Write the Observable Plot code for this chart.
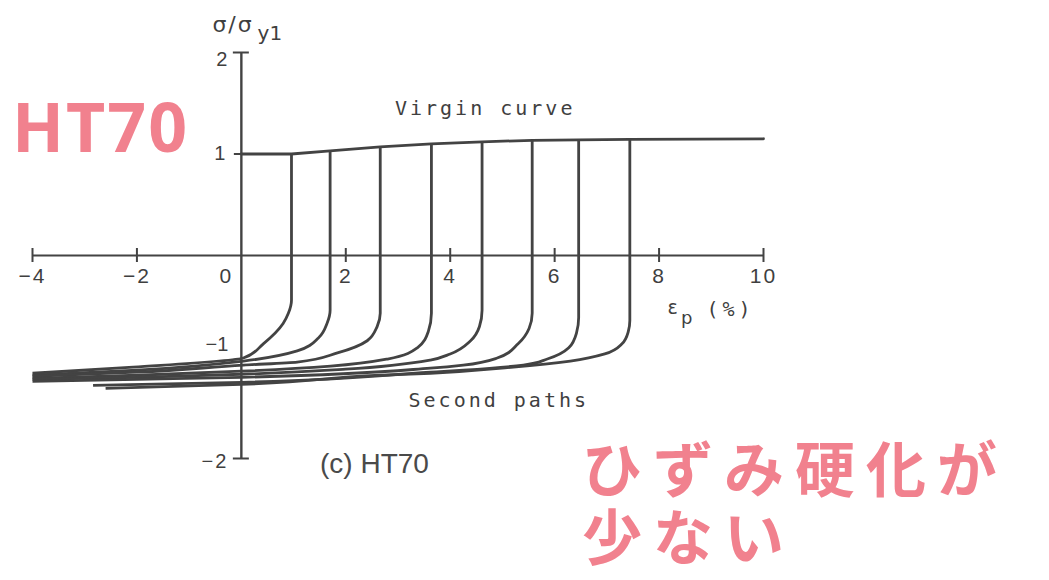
<!DOCTYPE html>
<html>
<head>
<meta charset="utf-8">
<script src="https://cdn.jsdelivr.net/npm/d3@7"></script>
<script src="https://cdn.jsdelivr.net/npm/@observablehq/plot@0.6"></script>
<style>
  html, body { margin: 0; padding: 0; background: #fff; }
  #chart { position: relative; width: 1049px; height: 580px; overflow: hidden; }
  #chart svg { position: absolute; left: 0; top: 0; }
  .note {
    position: absolute; white-space: pre; 
    color: #f07482; font-weight: 700; filter: blur(0.5px); opacity: 0.9;
  }
</style>
</head>
<body>
<div id="chart"></div>
<script>
// Axis ticks
const xTicks = [-4, -2, 0, 2, 4, 6, 8, 10];
const xTickLabels = ["\u22124", "\u22122", "0", "2", "4", "6", "8", "10"];
const yTicks = [2, 1, -1, -2];
const yTickLabels = ["2", "1", "\u22121", "\u22122"];

// Virgin (monotonic) curve: plastic strain (%) and normalized stress
const virginStrain = [0, 0.96, 1.70, 2.66, 3.64, 4.61, 5.57, 6.46, 7.44, 10];
const virginStress = [1.00, 1.00, 1.03, 1.07, 1.10, 1.12, 1.135, 1.14, 1.145, 1.15];

// Second (reversed) loading paths, one per prestrain, listed from tail to the reversal point
const prestrain = [0.96, 1.70, 2.66, 3.64, 4.61, 5.57, 6.46, 7.44];
const pathStrain = [
  [-4, -2.07, 0.04, 0.42, 0.80, 0.90, 0.96, 0.96],
  [-4, -2.0, 0.04, 1.07, 1.48, 1.64, 1.70, 1.70],
  [-4, -2.0, 0.04, 1.07, 1.84, 2.41, 2.60, 2.66, 2.66],
  [-4, -2.0, 0, 1.71, 2.80, 3.37, 3.58, 3.64, 3.64],
  [-4, -2.0, 0, 2.0, 3.62, 4.0, 4.39, 4.56, 4.61, 4.61],
  [-4, -2.0, 0, 3.62, 4.25, 4.90, 5.30, 5.51, 5.57, 5.57],
  [-2.84, 0, 3.62, 4.25, 5.40, 5.86, 6.27, 6.42, 6.46, 6.46],
  [-2.6, 0, 2.66, 3.62, 5.21, 6.30, 6.96, 7.29, 7.41, 7.44, 7.44]
];
const pathStress = [
  [-1.16, -1.10, -1.01, -0.87, -0.67, -0.57, -0.44, 1.00],
  [-1.18, -1.13, -1.04, -0.94, -0.81, -0.67, -0.54, 1.03],
  [-1.19, -1.15, -1.08, -1.05, -0.96, -0.84, -0.70, -0.57, 1.07],
  [-1.21, -1.18, -1.14, -1.09, -1.02, -0.91, -0.75, -0.57, 1.10],
  [-1.22, -1.20, -1.17, -1.12, -1.03, -0.97, -0.84, -0.70, -0.54, 1.12],
  [-1.24, -1.22, -1.20, -1.11, -1.08, -1.01, -0.87, -0.72, -0.57, 1.135],
  [-1.28, -1.25, -1.15, -1.13, -1.08, -1.02, -0.91, -0.76, -0.61, 1.14],
  [-1.31, -1.27, -1.18, -1.16, -1.10, -1.04, -0.97, -0.87, -0.75, -0.64, 1.145]
];

// Tables for the line marks
const virgin = virginStrain.map((s, i) => ({strain: s, stress: virginStress[i]}));
const paths = prestrain.flatMap((p, k) =>
  pathStrain[k].map((s, i) => ({path: p, strain: s, stress: pathStress[k][i]}))
);

const ink = "#434343";
const labelInk = "#3f3f3f";
const tickFont = "Liberation Sans, Arial, sans-serif";
const monoFont = "DejaVu Sans Mono, monospace";

const plot = Plot.plot({
  width: 1049,
  height: 580,
  marginLeft: 32,
  marginRight: 286,
  marginTop: 52,
  marginBottom: 122,
  x: {domain: [-4, 10], axis: null},
  y: {domain: [-2, 2], axis: null},
  style: {background: "transparent", overflow: "visible", color: ink},
  marks: [
    // axes through the origin
    Plot.ruleY([0], {x1: -4, x2: 10, stroke: ink, strokeWidth: 2.2}),
    Plot.ruleX([0], {y1: -2, y2: 2, stroke: ink, strokeWidth: 2.4}),
    Plot.ruleX(xTicks.filter((d) => d !== 0), {x: (d) => d, y1: 0, y2: 0, insetTop: -7, insetBottom: -7, stroke: ink, strokeWidth: 2}),
    Plot.ruleY(yTicks.filter((d) => Math.abs(d) === 2), {y: (d) => d, x1: 0, x2: 0, insetLeft: -8, insetRight: -8, stroke: ink, strokeWidth: 2}),
    Plot.ruleY(yTicks.filter((d) => d === 1), {y: (d) => d, x1: 0, x2: 0, insetLeft: -7, stroke: ink, strokeWidth: 2}),

    // tick labels
    Plot.text(xTicks, {filter: (d) => d !== 0, x: (d) => d, y: 0, dy: 21, text: (d, i) => xTickLabels[i],
      fontFamily: tickFont, fontSize: 21, fill: labelInk}),
    Plot.text(xTicks, {filter: (d) => d === 0, x: (d) => d, y: 0, dx: -15, dy: 21, text: (d, i) => xTickLabels[i],
      fontFamily: tickFont, fontSize: 21, fill: labelInk}),
    Plot.text(yTicks, {filter: (d) => d === 2, x: 0, y: (d) => d, dx: -12, dy: 7, text: (d, i) => yTickLabels[i],
      textAnchor: "end", fontFamily: tickFont, fontSize: 20, fill: labelInk}),
    Plot.text(yTicks, {filter: (d) => d === 1, x: 0, y: (d) => d, dx: -16, dy: 0, text: (d, i) => yTickLabels[i],
      textAnchor: "end", fontFamily: tickFont, fontSize: 20, fill: labelInk}),
    Plot.text(yTicks, {filter: (d) => d === -1, x: 0, y: (d) => d, dx: -13, dy: -12, text: (d, i) => yTickLabels[i],
      textAnchor: "end", fontFamily: tickFont, fontSize: 20, fill: labelInk}),
    Plot.text(yTicks, {filter: (d) => d === -2, x: 0, y: (d) => d, dx: -13, dy: 3, text: (d, i) => yTickLabels[i],
      textAnchor: "end", fontFamily: tickFont, fontSize: 20, fill: labelInk}),

    // axis titles
    Plot.text(["\u03c3/\u03c3"], {x: -0.555, y: 2.27, text: (d) => d, textAnchor: "start",
      fontFamily: "DejaVu Sans, sans-serif", fontSize: 22, fill: labelInk}),
    Plot.text(["y1"], {x: 0.31, y: 2.19, text: (d) => d, textAnchor: "start",
      fontFamily: "DejaVu Sans, sans-serif", fontSize: 20, fill: labelInk}),
    Plot.text(["\u03b5"], {x: 8.26, y: -0.52, text: (d) => d,
      fontFamily: "DejaVu Sans, sans-serif", fontSize: 19, fill: labelInk}),
    Plot.text(["p"], {x: 8.53, y: -0.62, text: (d) => d,
      fontFamily: "DejaVu Sans, sans-serif", fontSize: 18, fill: labelInk}),
    Plot.text(["(%)"], {x: 9.37, y: -0.53, text: (d) => d,
      fontFamily: monoFont, fontSize: 20, fill: labelInk}),

    // curves
    Plot.line(virgin, {x: "strain", y: "stress", stroke: ink, strokeWidth: 2.8}),
    Plot.line(paths, {x: "strain", y: "stress", z: "path", curve: "monotone-y",
      stroke: ink, strokeWidth: 2.8, strokeLinecap: "butt"}),

    // curve labels and panel caption
    Plot.text(["Virgin curve"], {x: 4.67, y: 1.45, text: (d) => d,
      fontFamily: monoFont, fontSize: 20, fill: labelInk}),
    Plot.text(["Second paths"], {x: 4.93, y: -1.43, text: (d) => d,
      fontFamily: monoFont, fontSize: 20, fill: labelInk}),
    Plot.text(["(c) HT70"], {x: 2.55, y: -2.05, text: (d) => d,
      fontFamily: tickFont, fontSize: 28, fill: "#4a4a4a"})
  ]
});

// typewriter-style letter spacing for the plotter lettering
const spacing = new Map([
  ["Virgin curve", 3], ["Second paths", 3], ["(%)", 4], ["\u03c3/\u03c3", 2],
  ...xTickLabels.map((t) => [t, 2])
]);
d3.select(plot).selectAll("text").each(function () {
  const s = spacing.get(this.textContent);
  if (s) this.style.letterSpacing = s + "px";
});

const chart = document.getElementById("chart");
chart.appendChild(plot);

// handwritten marker notes
const notes = [
  {text: "HT70", left: 12, top: 92, size: 68, lineHeight: 68, spacing: 2, font: "Noto Sans, sans-serif"},
  {text: "ひずみ硬化が\n少ない", left: 582, top: 432, size: 60, lineHeight: 68, spacing: 11, font: "Noto Sans CJK JP, sans-serif"}
];
for (const n of notes) {
  const div = document.createElement("div");
  div.className = "note";
  div.textContent = n.text;
  div.style.left = n.left + "px";
  div.style.top = n.top + "px";
  div.style.fontSize = n.size + "px";
  div.style.lineHeight = n.lineHeight + "px";
  div.style.letterSpacing = n.spacing + "px";
  div.style.fontFamily = n.font;
  chart.appendChild(div);
}
</script>
</body>
</html>
